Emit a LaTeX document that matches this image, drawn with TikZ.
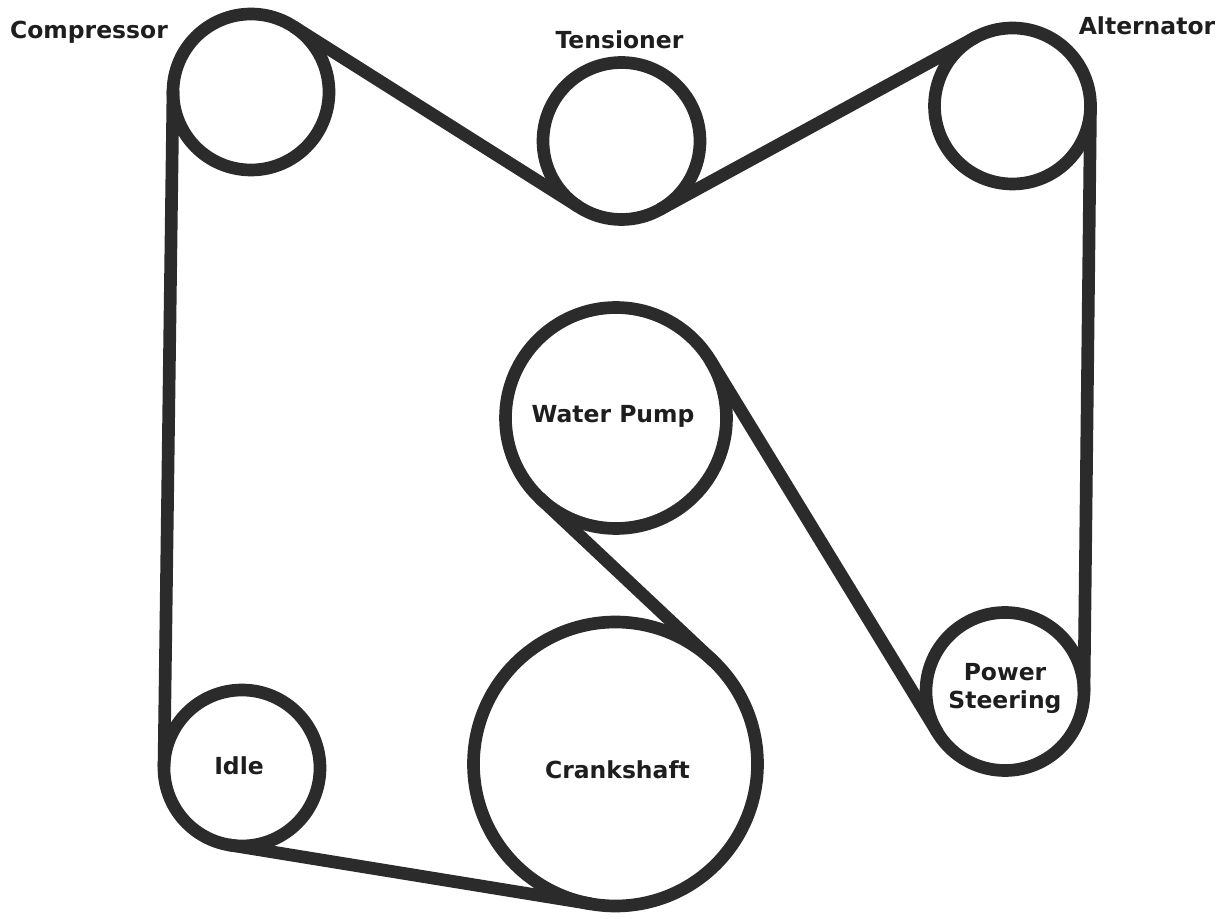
\documentclass[tikz,border=0pt]{standalone}
\usepackage{fontspec}
\setmainfont{DejaVu Sans}
\definecolor{ink}{HTML}{2B2B2B}
\definecolor{txt}{HTML}{1E1E1E}
\tikzset{
  pulley/.style={circle,draw=ink,line width=9.5pt,inner sep=0pt,outer sep=0pt,minimum size=#1*1.5pt},
  belt/.style={draw=ink,line width=9.5pt},
  lab/.style={text=txt,font=\fontsize{17.6}{21.7}\selectfont\bfseries,align=center,inner sep=0pt}
}
\begin{document}
\begin{tikzpicture}[x=0.75pt,y=-0.75pt]
\useasboundingbox (0,0) rectangle (1225,919);
\node[pulley=78] (comp) at (251,92) {};
\node[pulley=78.5] (tens) at (621.5,141) {};
\node[pulley=78] (alt) at (1012.5,106) {};
\node[pulley=110.5] (wp) at (616,418) {};
\node[pulley=142] (crank) at (615.5,764) {};
\node[pulley=78] (idle) at (242,768) {};
\node[pulley=79] (ps) at (1005,691.5) {};
\draw[belt] (comp.179.24) -- (idle.179.24);
\draw[belt] (comp.57.7) -- (tens.237.7);
\draw[belt] (tens.-61.4) -- (alt.118.6);
\draw[belt] (alt.0.7) -- (ps.0.7);
\draw[belt] (wp.31.4) -- (ps.211.4);
\draw[belt] (wp.226.9) -- (crank.46.9);
\draw[belt] (crank.260.74) -- (idle.260.74);
\node[lab] (lcomp) at (89,32) {Compressor};
\node[lab] (ltens) at (619.5,40) {Tensioner};
\node[lab] (lalt) at (1147,25.5) {Alternator};
\node[lab] (lwp) at (613,416) {Water Pump};
\node[lab] (lcrank) at (617.5,769.5) {Crankshaft};
\node[lab] (lidle) at (239,766) {Idle};
\node[lab] (lps) at (1005,688.5) {Power\\Steering};
\end{tikzpicture}
\end{document}
